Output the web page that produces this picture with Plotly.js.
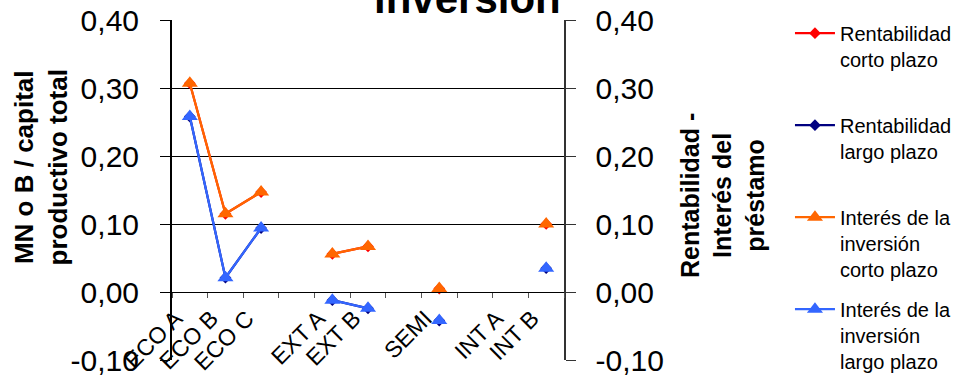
<!DOCTYPE html>
<html>
<head>
<meta charset="utf-8">
<script src="https://cdn.plot.ly/plotly-3.0.1.min.js"></script>
<style>
  html, body { margin: 0; padding: 0; background: #ffffff; }
  #chart { width: 958px; height: 377px; }
</style>
</head>
<body>
<div id="chart"></div>
<script>
// Categories (blank slots are empty categories in the original chart)
const categories = ["ECO A", "ECO B", "ECO C", " ", "EXT A", "EXT B", "  ", "SEMI", "   ", "INT A", "INT B"];

// Series values
const rentabilidadCorto = [0.307, 0.115, 0.147, null, 0.056, 0.067, null, 0.005, null, null, 0.100];
const rentabilidadLargo = [0.258, 0.021, 0.094, null, -0.012, -0.024, null, -0.042, null, null, 0.035];
const interesCorto      = [0.307, 0.115, 0.147, null, 0.056, 0.067, null, 0.005, null, null, 0.100];
const interesLargo      = [0.258, 0.021, 0.094, null, -0.012, -0.024, null, -0.042, null, null, 0.035];

// Tick values / labels
const yTickVals = [-0.1, 0, 0.1, 0.2, 0.3, 0.4];
const yTickText = ["-0,10", "0,00", "0,10", "0,20", "0,30", "0,40"];

const seriesNames = [
  "Rentabilidad<br>corto plazo<br> ",
  "Rentabilidad<br>largo plazo<br> ",
  "Interés de la<br>inversión<br>corto plazo",
  "Interés de la<br>inversión<br>largo plazo"
];

const FONT = "Liberation Sans, Arial, sans-serif";

const traces = [
  {
    x: categories, y: rentabilidadCorto, name: seriesNames[0], legendgroup: "g1",
    type: "scatter", mode: "lines+markers", yaxis: "y",
    line: { color: "#FF0000", width: 2.25 },
    marker: { symbol: "diamond", size: 9, color: "#FF0000" },
    connectgaps: false
  },
  {
    x: categories, y: rentabilidadLargo, name: seriesNames[1], legendgroup: "g2",
    type: "scatter", mode: "lines+markers", yaxis: "y",
    line: { color: "#000080", width: 2.25 },
    marker: { symbol: "diamond", size: 9, color: "#000080" },
    connectgaps: false
  },
  {
    x: categories, y: interesCorto, name: seriesNames[2], legendgroup: "g3",
    type: "scatter", mode: "lines+markers", yaxis: "y2",
    line: { color: "#FF6600", width: 2.25 },
    marker: { symbol: "triangle-up", size: 14, color: "#FF6600" },
    connectgaps: false
  },
  {
    x: categories, y: interesLargo, name: seriesNames[3], legendgroup: "g4",
    type: "scatter", mode: "lines+markers", yaxis: "y2",
    line: { color: "#3366FF", width: 2.25 },
    marker: { symbol: "triangle-up", size: 14, color: "#3366FF" },
    connectgaps: false
  }
];

const TITLE_FONT = { family: FONT, size: 26, color: "#000000", weight: "bold" };

const layout = {
  width: 958, height: 377,
  margin: { l: 172, r: 394, t: 20, b: 17, pad: 0 },
  paper_bgcolor: "#ffffff", plot_bgcolor: "#ffffff",
  font: { family: FONT, color: "#000000" },
  showlegend: true,
  legend: {
    xref: "container", yref: "container",
    x: 0.8246, y: 0.9638, xanchor: "left", yanchor: "top",
    maxheight: 377,
    font: { family: FONT, size: 20, color: "#000000" },
    valign: "top", itemwidth: 40, tracegroupgap: 11,
    bgcolor: "rgba(0,0,0,0)", borderwidth: 0
  },
  xaxis: {
    type: "category",
    categoryorder: "array", categoryarray: categories,
    range: [-0.5, 10.5],
    anchor: "free", position: 0.2,
    showline: true, linecolor: "#000000", linewidth: 1,
    showgrid: false, zeroline: false,
    ticks: "outside", ticklen: 5, tickcolor: "#555555", tickson: "boundaries",
    tickangle: -45,
    ticklabelshift: -14, ticklabelstandoff: 3,
    tickfont: { family: FONT, size: 23, color: "#000000" }
  },
  yaxis: {
    range: [-0.1, 0.4],
    tickvals: yTickVals, ticktext: yTickText,
    showline: true, linecolor: "#000000", linewidth: 2,
    showgrid: true, gridcolor: "#000000", gridwidth: 1,
    zeroline: false,
    ticks: "outside", ticklen: 10, tickcolor: "#000000", tickwidth: 1,
    ticklabelstandoff: 15,
    tickfont: { family: FONT, size: 30, color: "#000000" }
  },
  yaxis2: {
    range: [-0.1, 0.4],
    overlaying: "y", side: "right", anchor: "x",
    tickvals: yTickVals, ticktext: yTickText,
    showline: true, linecolor: "#333333", linewidth: 1.5,
    showgrid: false, zeroline: false,
    ticks: "outside", ticklen: 10, tickcolor: "#333333", tickwidth: 1,
    ticklabelstandoff: 14,
    tickfont: { family: FONT, size: 30, color: "#000000" }
  },
  annotations: [
    {
      text: "inversión",
      xref: "paper", yref: "paper",
      x: 0.755, y: 1.0, xanchor: "center", yanchor: "bottom", yshift: -4,
      showarrow: false,
      font: { family: FONT, size: 42, color: "#000000", weight: "bold" }
    },
    {
      text: "MN o B / capital<br>productivo total",
      xref: "paper", yref: "paper",
      x: -0.333, y: 0.5676, xanchor: "center", yanchor: "middle",
      textangle: -90, showarrow: false,
      font: TITLE_FONT
    },
    {
      text: "Rentabilidad -<br>Interés del<br>préstamo",
      xref: "paper", yref: "paper",
      x: 1.403, y: 0.485, xanchor: "center", yanchor: "middle",
      textangle: -90, showarrow: false,
      font: { family: FONT, size: 25, color: "#000000", weight: "bold" }
    }
  ]
};

Plotly.newPlot("chart", traces, layout, { staticPlot: true, displayModeBar: false });
</script>
</body>
</html>
